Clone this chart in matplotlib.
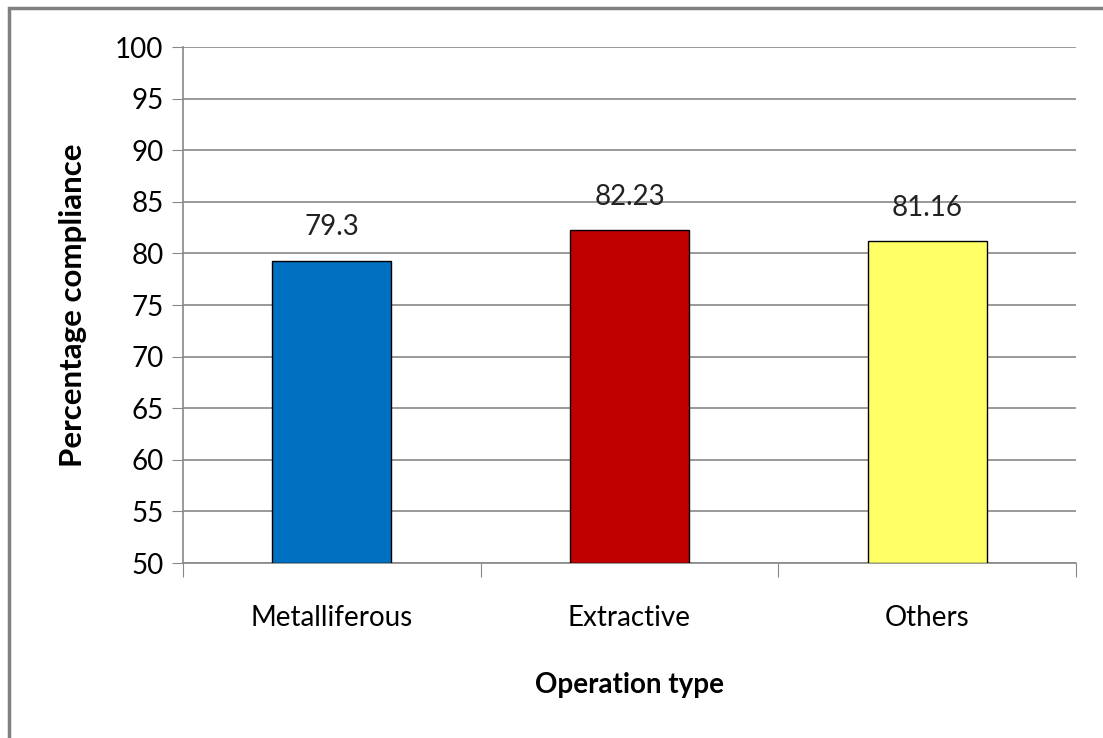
import matplotlib
matplotlib.use('Agg')
import matplotlib.pyplot as plt
from matplotlib.patches import Rectangle

# data
categories = ['Metalliferous', 'Extractive', 'Others']
values = [79.3, 82.23, 81.16]
labels = ['79.3', '82.23', '81.16']
colors = ['#0070C0', '#C00000', '#FFFF66']
yticks = list(range(50, 101, 5))

plt.rcParams['font.family'] = ['Lato', 'DejaVu Sans']

W, H = 1103, 738
fig = plt.figure(figsize=(W / 100, H / 100), dpi=100)
ax = fig.add_axes([183 / W, 1 - 563 / H, (1076 - 183) / W, (563 - 47) / H])

# figure frame (left and top visible)
fig.patches.append(Rectangle((9 / W, -0.1), 1.2, 1 - 8 / H + 0.1, transform=fig.transFigure,
                             fill=False, edgecolor='#808080', linewidth=2.5, zorder=0))

x = range(len(categories))
ax.bar(x, [v - 50 for v in values], bottom=50, width=0.4, color=colors,
       edgecolor='black', linewidth=1, zorder=3)

for i, (v, t) in enumerate(zip(values, labels)):
    ax.text(i, v + 2.0, t, ha='center', va='bottom', fontsize=20, color='#222222')

ax.set_xlim(-0.5, 2.5)
ax.set_ylim(50, 100)
ax.set_yticks(yticks)
ax.tick_params(axis='y', labelsize=20, length=8, color='#888888', pad=6)
ax.set_xticks([-0.5, 0.5, 1.5, 2.5])
ax.set_xticklabels([])
ax.set_xticks(list(x), minor=True)
ax.set_xticklabels(categories, minor=True)
ax.tick_params(axis='x', which='major', length=10, color='#888888')
ax.tick_params(axis='x', which='minor', length=0, labelsize=20, pad=30)
ax.yaxis.grid(True, color='#888888', linewidth=1.2, zorder=0)
ax.set_axisbelow(True)
for s in ['top', 'right']:
    ax.spines[s].set_visible(False)
for s in ['left', 'bottom']:
    ax.spines[s].set_color('#888888')
    ax.spines[s].set_linewidth(1.2)

ax.set_ylabel('Percentage compliance', fontsize=22.5, fontweight='bold', labelpad=20)
ax.set_xlabel('Operation type', fontsize=20, fontweight='bold', labelpad=30)

fig.savefig('out.png', dpi=100)
